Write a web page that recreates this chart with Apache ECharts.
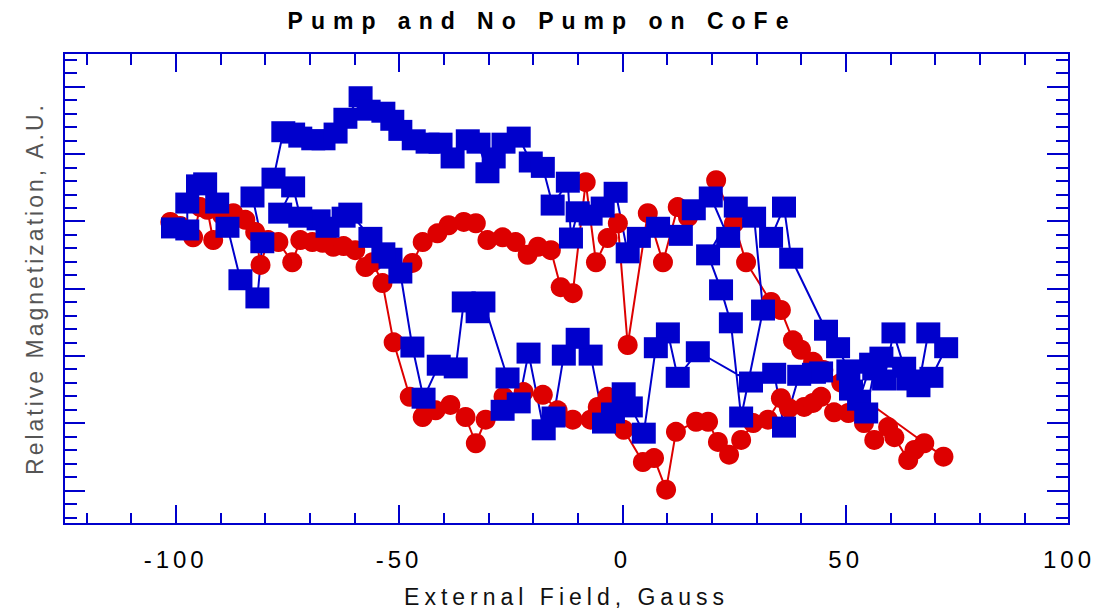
<!DOCTYPE html>
<html>
<head>
<meta charset="utf-8">
<script src="https://cdn.jsdelivr.net/npm/echarts@6/dist/echarts.min.js"></script>
<style>
  html, body { margin: 0; padding: 0; background: #fff; }
  #chart { width: 1103px; height: 614px; }
</style>
</head>
<body>
<div id="chart"></div>
<script>
// Pump / No Pump hysteresis sweeps, field in Gauss, magnetization in arbitrary units
var redField = [-101.2,-99.0,-96.1,-94.5,-92.9,-91.6,-89.6,-87.1,-84.4,-82.2,-81.0,-79.3,-77.0,-73.9,-72.1,-69.4,-67.1,-64.7,-62.4,-59.8,
    -57.5,-55.9,-53.7,-51.2,-47.6,-44.7,-41.8,-38.5,-35.1,-32.8,-30.6,-26.6,-22.1,-17.8,-14.5,-11.1,-7.1,-5.5,-3.3,0.3,
    4.6,7.1,9.8,12.0,16.5,19.2,21.4,23.9,26.6,29.3,32.6,35.5,37.3,40.7,42.7,44.5,47.4,50.6,54.1,56.4,
    59.5,60.9,64.0,65.4,67.6,71.9,
    49.0,45.0,42.7,40.0,38.2,35.5,33.3,27.7,25.0,21.0,14.7,12.4,9.1,5.7,1.2,-1.0,-3.3,-5.9,-8.2,-11.1,
    -13.8,-16.0,-18.9,-21.2,-23.9,-26.8,-30.2,-32.8,-35.5,-38.9,-41.4,-44.7,-47.0];
var redMag = [4.49,4.43,4.26,4.71,4.67,4.22,4.59,4.62,4.52,4.34,3.85,4.22,4.19,3.89,4.22,4.19,4.18,4.12,4.13,4.07,
    3.82,3.89,3.58,2.70,1.89,1.59,1.69,1.77,1.59,1.20,1.55,1.89,1.96,1.92,1.69,1.55,1.55,1.74,1.89,1.40,
    0.92,0.98,0.51,1.37,1.52,1.52,1.22,1.03,1.25,1.50,1.55,1.87,1.72,1.74,1.80,1.89,1.66,1.65,1.50,1.25,
    1.44,1.29,0.95,1.10,1.20,1.00,
    2.10,2.29,2.41,2.59,2.73,3.18,3.30,3.89,4.47,5.11,4.56,4.71,3.89,4.62,2.66,4.47,4.25,3.89,5.08,3.43,
    3.52,4.07,4.12,4.00,4.19,4.26,4.22,4.47,4.49,4.44,4.32,4.19,3.88];

var blueField = [-100.6,-97.4,-97.4,-95.0,-93.4,-90.7,-88.4,-85.5,-81.7,-80.6,-82.8,-78.1,-75.9,-73.7,-72.1,-69.2,-66.9,-64.2,-62.0,-58.6,
    -56.8,-53.5,-51.5,-49.7,-46.7,-43.6,-40.7,-38.0,-34.6,-32.2,-30.2,-28.8,-26.6,-23.2,-20.5,-17.8,-15.6,-12.2,-11.5,-10.0,
    -7.1,-4.4,-1.5,1.2,3.7,8.0,13.1,16.0,19.8,23.7,25.4,19.2,22.1,24.3,26.6,31.5,29.5,33.3,36.2,37.8,
    45.6,48.3,50.6,53.0,55.7,58.6,60.7,63.1,66.3,68.5,72.5,
    69.2,64.0,58.0,56.4,54.6,51.2,44.5,42.9,39.6,36.2,34.0,28.8,16.9,12.4,10.2,7.5,4.8,1.9,0.3,-2.1,
    -4.1,-7.1,-10.0,-13.1,-15.4,-17.6,-21.0,-23.2,-26.8,-25.7,-31.1,-32.4,-35.5,-37.3,-41.1,-44.5,-47.0,-49.7,-51.9,-53.5,
    -56.4,-60.9,-62.4,-66.0,-68.0,-72.1,-73.7,-76.6];
var blueMag = [4.40,4.37,4.77,5.04,5.07,4.77,4.41,3.63,3.36,4.18,4.86,5.14,5.83,5.81,5.75,5.71,5.71,5.81,6.03,6.35,
    6.15,6.12,6.00,5.85,5.71,5.66,5.66,5.44,5.71,5.66,5.22,5.44,5.66,5.75,5.38,5.30,4.74,5.08,4.25,4.64,
    4.59,4.71,4.93,4.03,4.26,4.41,4.29,4.67,4.86,4.26,4.71,4.00,3.48,2.99,1.59,3.18,4.56,4.26,4.71,3.95,
    2.88,2.62,2.29,1.84,2.39,2.14,2.84,2.33,2.04,2.84,2.62,
    2.18,2.14,2.48,2.29,1.65,1.99,2.26,2.24,2.21,1.44,2.24,2.11,2.56,2.18,2.84,2.62,1.35,1.74,1.95,1.65,
    1.50,2.51,2.76,2.51,1.59,1.40,2.54,1.80,1.69,2.17,3.30,3.14,3.30,2.32,2.36,1.87,2.63,3.73,3.95,4.03,
    4.26,4.62,4.56,4.41,4.52,4.56,5.01,4.62];

var xMajor = [-100, -50, 0, 50, 100];
var xMinor = [-120,-110,-90,-80,-70,-60,-40,-30,-20,-10,10,20,30,40,60,70,80,90];
var yMajor = [0.5, 1.5, 2.5, 3.5, 4.5, 5.5, 6.5];
var yMinor = [0.1,0.3,0.7,0.9,1.1,1.3,1.7,1.9,2.1,2.3,2.7,2.9,3.1,3.3,3.7,3.9,4.1,4.3,4.7,4.9,5.1,5.3,5.7,5.9,6.1,6.3,6.7,6.9];

var FRAME = '#0000CC';
var FONT = "'Liberation Sans', Arial, sans-serif";

function pairs(xs, ys) {
    var out = [];
    for (var i = 0; i < xs.length; i++) out.push([xs[i], ys[i]]);
    return out;
}

function tickAxis(kind, grid, pos, values, len, labels) {
    var ax = {
        type: 'value', gridIndex: grid, position: pos,
        min: kind === 'x' ? -125 : 0,
        max: kind === 'x' ? 100 : 7,
        axisLine: { show: false, onZero: false },
        splitLine: { show: false },
        axisTick: { show: true, inside: true, length: len, customValues: values,
            lineStyle: { color: FRAME, width: 2 } },
        axisLabel: { show: false }
    };
    if (labels) {
        ax.axisLabel = { show: true, customValues: labels, margin: 23, color: '#000',
            fontSize: 24, fontFamily: FONT };
    }
    return ax;
}

var chart = echarts.init(document.getElementById('chart'), null, { renderer: 'svg' });

var xa0 = tickAxis('x', 0, 'bottom', xMajor, 19, xMajor);
xa0.name = 'External Field, Gauss';
xa0.nameLocation = 'middle';
xa0.nameGap = 61;
xa0.nameTextStyle = { color: '#111', fontSize: 23, fontFamily: FONT };

var ya0 = tickAxis('y', 0, 'left', yMajor, 21);
ya0.name = 'Relative Magnetization, A.U.';
ya0.nameLocation = 'middle';
ya0.nameGap = 18;
ya0.nameTextStyle = { color: '#555', fontSize: 23, fontFamily: FONT };

var option = {
    animation: false,
    backgroundColor: '#fff',
    title: {
        text: 'Pump and No Pump on CoFe',
        left: 542, top: 9, padding: 0, textAlign: 'center',
        textStyle: { color: '#000', fontSize: 23, fontWeight: 'bold', fontFamily: FONT }
    },
    grid: [
        { left: 64, right: 34, top: 53, bottom: 90, show: true, borderColor: FRAME, borderWidth: 2, backgroundColor: 'transparent' },
        { left: 64, right: 34, top: 53, bottom: 90, show: false }
    ],
    xAxis: [
        xa0,
        tickAxis('x', 0, 'top', xMajor, 19),
        tickAxis('x', 1, 'bottom', xMinor, 11),
        tickAxis('x', 1, 'top', xMinor, 12)
    ],
    yAxis: [
        ya0,
        tickAxis('y', 0, 'right', yMajor, 22),
        tickAxis('y', 1, 'left', yMinor, 13),
        tickAxis('y', 1, 'right', yMinor, 13)
    ],
    series: [
        {
            name: 'No Pump', type: 'line', xAxisIndex: 0, yAxisIndex: 0,
            data: pairs(redField, redMag),
            symbol: 'circle', symbolSize: 20,
            lineStyle: { color: '#DD0000', width: 2 },
            itemStyle: { color: '#DD0000' },
            silent: true
        },
        {
            name: 'Pump', type: 'line', xAxisIndex: 0, yAxisIndex: 0,
            data: pairs(blueField, blueMag),
            symbol: 'rect', symbolSize: [24, 21],
            lineStyle: { color: '#0000CC', width: 2 },
            itemStyle: { color: '#0000CC' },
            silent: true
        }
    ]
};

chart.setOption(option);

// the original plot software spaces its glyphs out
function spaceText() {
    var spacing = {
        'Pump and No Pump on CoFe': '8px',
        'External Field, Gauss': '5px',
        'Relative Magnetization, A.U.': '3px'
    };
    var nodes = document.querySelectorAll('#chart svg text');
    for (var i = 0; i < nodes.length; i++) {
        var t = nodes[i].textContent;
        if (spacing[t]) nodes[i].style.letterSpacing = spacing[t];
        else if (/^-?\d+$/.test(t)) nodes[i].style.letterSpacing = '4px';
    }
}
chart.on('finished', spaceText);
spaceText();
setTimeout(spaceText, 50);
</script>
</body>
</html>
